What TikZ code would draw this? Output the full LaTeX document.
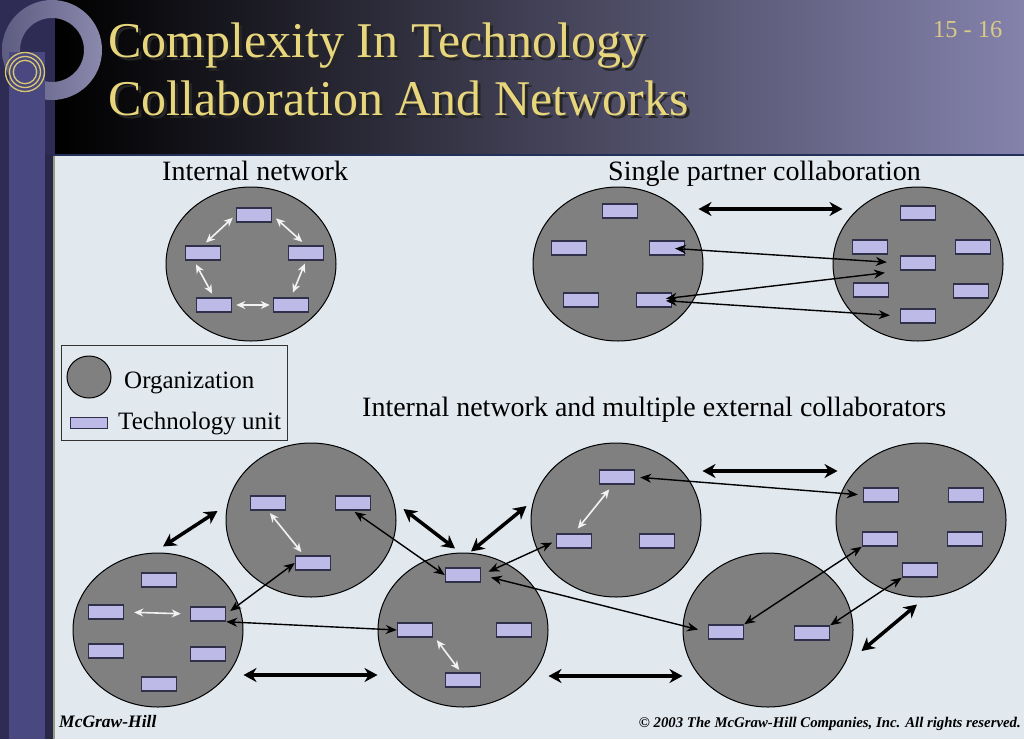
\documentclass[tikz,border=0pt]{standalone}
\usepackage{fontspec}
\setmainfont{Liberation Serif}
\usetikzlibrary{shapes.geometric,arrows.meta,calc}
\definecolor{slidebg}{HTML}{E1E9EF}
\definecolor{orggray}{HTML}{808080}
\definecolor{unitfill}{HTML}{BEBAE8}
\definecolor{unitline}{HTML}{30304A}
\definecolor{titlegold}{HTML}{E8D67C}
\definecolor{numgold}{HTML}{D9CB86}
\definecolor{stripdark}{HTML}{2E2C55}
\definecolor{stripband}{HTML}{2A2848}
\definecolor{stripmid}{HTML}{4A4880}
\definecolor{headmid}{HTML}{5E5C86}
\definecolor{headright}{HTML}{8482AC}
\definecolor{ringcol}{HTML}{6E6C98}
\definecolor{ringgold}{HTML}{D8C870}
\definecolor{headline}{HTML}{22305A}
\definecolor{edgeolive}{HTML}{9A9A7E}

\begin{document}
\begin{tikzpicture}[x=1pt,y=-1pt,
  org/.style={ellipse,draw=black,line width=1pt,fill=orggray,minimum width=170pt,minimum height=154pt,inner sep=0pt},
  unit/.style={rectangle,draw=unitline,line width=1.5pt,fill=unitfill,minimum width=35pt,minimum height=14pt,inner sep=0pt},
  link/.style={{Stealth[length=11pt,width=9pt]}-{Stealth[length=11pt,width=9pt]},line width=1.4pt},
  wlink/.style={{Stealth[length=9pt,width=8pt]}-{Stealth[length=9pt,width=8pt]},line width=1.6pt,draw=white!95!black},
  biglink/.style={{Stealth[length=13pt,width=14pt]}-{Stealth[length=13pt,width=14pt]},line width=3.5pt},
  caption/.style={anchor=base west,inner sep=0pt,font=\fontsize{28}{32}\selectfont}]
\useasboundingbox (0,0) rectangle (1024,739);

% slide background
\fill[slidebg] (55,156) rectangle (1024,739);
\fill[stripdark] (0,0) rectangle (55,739);
\shade[left color=black,middle color=headmid,right color=headright] (55,0) rectangle (1024,155);
\shade[even odd rule,left color=ringcol!85!black,right color=ringcol!80!white] (52,50) circle (50pt) (52,50) circle (32pt);
\fill[stripmid] (9,52) rectangle (45,739);
\fill[stripband] (45,155) rectangle (53,739);
\draw[ringgold,line width=1.3pt] (25,72) circle (19.5pt) (25,72) circle (15.5pt) (25,72) circle (11.7pt);
\draw[headline,line width=2pt] (55,155) -- (1024,155);
\draw[edgeolive,line width=2pt] (54,156) -- (54,739);

% title
\node[anchor=base west,inner sep=0pt,black!85,font=\fontsize{50}{57}\selectfont] (title1s) at (111,60) {Complexity In Technology};
\node[anchor=base west,inner sep=0pt,black!85,font=\fontsize{50}{57}\selectfont] (title2s) at (111,118) {Collaboration And Networks};
\node[anchor=base west,inner sep=0pt,titlegold,font=\fontsize{50}{57}\selectfont] (title1) at (108,57) {Complexity In Technology};
\node[anchor=base west,inner sep=0pt,titlegold,font=\fontsize{50}{57}\selectfont] (title2) at (108,115) {Collaboration And Networks};
\node[anchor=base west,inner sep=0pt,numgold,font=\fontsize{24.4}{28}\selectfont] (slideno) at (933,37) {15 - 16};

% internal network
\node[caption] (capinet) at (162,180) {Internal network};
\node[org] (inet) at (251,264) {};
\node[unit] (in1) at (254,215) {};
\node[unit] (in2) at (203,253) {};
\node[unit] (in3) at (306,253) {};
\node[unit] (in4) at (214,305) {};
\node[unit] (in5) at (291,305) {};
\draw[wlink,shorten <=4pt,shorten >=4pt] (in1.west) -- (in2.north);
\draw[wlink,shorten <=5pt,shorten >=5pt] (in1.east) -- (in3.north);
\draw[wlink,shorten <=4pt,shorten >=4pt] ([xshift=-9pt]in2.south) -- (in4.north);
\draw[wlink,shorten <=3pt,shorten >=5pt] (in3.south) -- (in5.north);
\draw[wlink,shorten <=4pt,shorten >=3pt] (in4.east) -- (in5.west);

% single partner collaboration
\node[caption] (capsingle) at (608,180) {Single partner collaboration};
\node[org] (sorg1) at (618,264) {};
\node[org] (sorg2) at (918,264) {};
\node[unit] (sa1) at (620,211) {};
\node[unit] (sa2) at (569,248) {};
\node[unit] (sa3) at (667,248) {};
\node[unit] (sa4) at (581,300) {};
\node[unit] (sa5) at (654,300) {};
\node[unit] (sb1) at (918,213) {};
\node[unit] (sb2) at (870,247) {};
\node[unit] (sb3) at (973,247) {};
\node[unit] (sb4) at (918,263) {};
\node[unit] (sb5) at (871,290) {};
\node[unit] (sb6) at (971,291) {};
\node[unit] (sb7) at (918,316) {};
\draw[biglink] ($(sorg1.east)+(-5,-55)$) -- ($(sorg2.west)+(10,-55)$);
\draw[link,shorten <=8pt,shorten >=13pt] (sa3.center) -- (sb4.west);
\draw[link,shorten <=12pt,shorten >=15pt] (sa5.center) -- ($(sb4.west)+(0,8)$);
\draw[link,shorten <=12pt,shorten >=10pt] (sa5.center) -- (sb7.west);

% legend
\node[draw=black!80,line width=1pt,minimum width=226pt,minimum height=95pt,inner sep=0pt,anchor=north west] (legend) at (61,345) {};
\node[org,minimum width=44pt,minimum height=42pt] (legorg) at (89,377) {};
\node[unit,minimum width=37pt,minimum height=11pt] (legunit) at (89,423) {};
\node[caption,font=\fontsize{25}{29}\selectfont] (legorgtext) at (124,388) {Organization};
\node[caption,font=\fontsize{25}{29}\selectfont] (legunittext) at (118,429) {Technology unit};

% multiple external collaborators
\node[caption] (capmulti) at (362,416) {Internal network and multiple external collaborators};
\node[org] (A) at (158,630) {};
\node[org] (B) at (311,520) {};
\node[org] (C) at (463,630) {};
\node[org] (D) at (616,520) {};
\node[org] (E) at (921,520) {};
\node[org] (F) at (768,630) {};
\node[unit] (a1) at (159,580) {};
\node[unit] (a2) at (106,612) {};
\node[unit] (a3) at (208,614) {};
\node[unit] (a4) at (106,651) {};
\node[unit] (a5) at (208,654) {};
\node[unit] (a6) at (159,684) {};
\node[unit] (b1) at (268,503) {};
\node[unit] (b2) at (353,503) {};
\node[unit] (b3) at (313,563) {};
\node[unit] (c1) at (463,575) {};
\node[unit] (c2) at (415,630) {};
\node[unit] (c3) at (514,630) {};
\node[unit] (c4) at (463,680) {};
\node[unit] (d1) at (617,477) {};
\node[unit] (d2) at (574,541) {};
\node[unit] (d3) at (657,541) {};
\node[unit] (e1) at (881,495) {};
\node[unit] (e2) at (966,495) {};
\node[unit] (e3) at (880,539) {};
\node[unit] (e4) at (965,539) {};
\node[unit] (e5) at (920,570) {};
\node[unit] (f1) at (726,632) {};
\node[unit] (f2) at (812,633) {};

\draw[wlink,shorten <=10pt,shorten >=9pt] (a2.east) -- (a3.west);
\draw[wlink,shorten <=3pt,shorten >=4pt] (b1.south) -- ([xshift=-9pt]b3.north);
\draw[wlink,shorten <=3pt,shorten >=3pt] ([xshift=20pt]c2.south) -- ([xshift=-2pt]c4.north);
\draw[wlink,shorten <=6pt,shorten >=6pt] ([xshift=-4pt]d1.south) -- (d2.north);

\draw[biglink] ($(A.north)+(5,-6)$) -- ($(B.west)+(-8,-9)$);
\draw[biglink] ($(B.east)+(7,-11)$) -- ($(C.north)+(-8,-4)$);
\draw[biglink] ($(C.north)+(8,-1)$) -- ($(D.west)+(-4,-14)$);
\draw[biglink] ($(A.east)+(0,45)$) -- ($(C.west)+(0,45)$);
\draw[biglink] ($(D.east)+(1,-49)$) -- ($(E.west)+(2,-49)$);
\draw[biglink] ($(C.east)+(0,46)$) -- ($(F.west)+(0,46)$);
\draw[biglink] ($(F.east)+(8,21)$) -- ($(E.south)+(-4,7)$);

\draw[link,shorten <=5pt] (a3.east) -- (b3.west);
\draw[link] (a3.south east) -- (c2.west);
\draw[link,shorten <=2pt] (b2.south) -- (c1.west);
\draw[link,shorten <=8pt,shorten >=4pt] (c1.east) -- (d2.west);
\draw[link,shorten <=10pt,shorten >=10pt] (c1.east) -- (f1.west);
\draw[link,shorten <=5pt,shorten >=5pt] (d1.east) -- (e1.west);
\draw[link] (f1.north east) -- (e3.south west);
\draw[link] (f2.north east) -- (e5.south west);

% footer
\node[anchor=base west,inner sep=0pt,font=\fontsize{17.5}{20}\selectfont\bfseries\itshape] (footleft) at (59,727) {McGraw-Hill};
\node[anchor=base east,inner sep=0pt,font=\fontsize{14.8}{17}\selectfont\bfseries\itshape] (footright) at (1021,727) {© 2003 The McGraw-Hill Companies, Inc. All rights reserved.};
\end{tikzpicture}
\end{document}
